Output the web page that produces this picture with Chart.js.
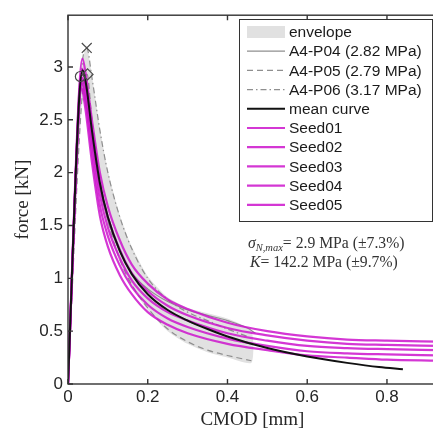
<!DOCTYPE html>
<html>
<head>
<meta charset="utf-8">
<script src="https://cdn.jsdelivr.net/npm/chart.js@4.4.1/dist/chart.umd.min.js"></script>
<style>
  html, body { margin: 0; padding: 0; background: #fff; overflow: hidden; }
  #wrap { width: 433px; height: 434px; overflow: hidden; }
</style>
</head>
<body>
<div id="wrap"><canvas id="cmodChart" width="445" height="434"></canvas></div>
<script>
// tick values of both axes
const cmodTicks = [0, 0.2, 0.4, 0.6, 0.8];
const forceTicks = [0, 0.5, 1, 1.5, 2, 2.5, 3];

// experiments, [CMOD mm, force kN]
const specP04 = [[0, 0], [0.026, 2.7], [0.031, 2.91], [0.042, 2.72], [0.06, 2.3], [0.08, 1.85], [0.1, 1.55],
  [0.13, 1.25], [0.16, 1.05], [0.2, 0.9], [0.25, 0.78], [0.3, 0.7], [0.35, 0.65], [0.4, 0.6], [0.45, 0.53], [0.47, 0.48]];
const specP05 = [[0, 0], [0.035, 2.7], [0.048, 2.93], [0.06, 2.5], [0.08, 1.95], [0.1, 1.55],
  [0.13, 1.18], [0.16, 0.94], [0.2, 0.72], [0.25, 0.52], [0.3, 0.4], [0.35, 0.32], [0.4, 0.27], [0.46, 0.22]];
const specP06 = [[0, 0], [0.035, 3.0], [0.047, 3.18], [0.06, 2.9], [0.08, 2.4], [0.1, 2.0],
  [0.13, 1.58], [0.16, 1.28], [0.2, 1.0], [0.25, 0.8], [0.3, 0.68], [0.35, 0.6], [0.4, 0.52], [0.45, 0.45]];

// grey band around the experiments (upper edge, lower edge)
const envelopeUpper = [[0, 0], [0.026, 2.72], [0.031, 2.93], [0.04, 3.12], [0.047, 3.2], [0.06, 2.92], [0.08, 2.42],
  [0.1, 2.02], [0.13, 1.6], [0.16, 1.3], [0.2, 1.02], [0.25, 0.82], [0.3, 0.72], [0.35, 0.67], [0.4, 0.62], [0.46, 0.5]];
const envelopeLower = [[0.46, 0.2], [0.4, 0.25], [0.35, 0.3], [0.3, 0.38], [0.25, 0.5], [0.2, 0.7], [0.16, 0.92],
  [0.13, 1.15], [0.1, 1.5], [0.08, 1.82], [0.06, 2.28], [0.045, 2.68], [0.035, 2.68], [0, 0]];

const meanCurve = [[0, 0], [0.028, 2.7], [0.037, 2.97], [0.046, 2.82], [0.06, 2.4], [0.08, 1.9], [0.1, 1.58],
  [0.13, 1.26], [0.16, 1.04], [0.2, 0.85], [0.25, 0.7], [0.3, 0.6], [0.35, 0.52], [0.4, 0.45], [0.5, 0.34], [0.6, 0.26],
  [0.7, 0.2], [0.78, 0.16], [0.84, 0.14]];

// simulations
const seed01 = [[0, 0], [0.028, 2.78], [0.036, 3.08], [0.045, 2.92], [0.06, 2.5], [0.08, 2.0], [0.1, 1.68],
  [0.13, 1.36], [0.16, 1.13], [0.2, 0.95], [0.25, 0.8], [0.3, 0.71], [0.4, 0.58], [0.5, 0.5], [0.6, 0.45], [0.7, 0.42],
  [0.8, 0.41], [0.93, 0.4]];
const seed02 = [[0, 0], [0.028, 2.7], [0.036, 2.98], [0.045, 2.82], [0.06, 2.4], [0.08, 1.89], [0.1, 1.58],
  [0.13, 1.27], [0.16, 1.05], [0.2, 0.88], [0.25, 0.74], [0.3, 0.65], [0.4, 0.53], [0.5, 0.46], [0.6, 0.41], [0.7, 0.38],
  [0.8, 0.37], [0.93, 0.36]];
const seed03 = [[0, 0], [0.028, 2.65], [0.036, 2.9], [0.045, 2.74], [0.06, 2.3], [0.08, 1.79], [0.1, 1.48],
  [0.13, 1.19], [0.16, 0.98], [0.2, 0.81], [0.25, 0.68], [0.3, 0.6], [0.4, 0.48], [0.5, 0.41], [0.6, 0.36], [0.7, 0.34],
  [0.8, 0.33], [0.93, 0.32]];
const seed04 = [[0, 0], [0.027, 2.6], [0.035, 2.85], [0.044, 2.68], [0.06, 2.2], [0.08, 1.69], [0.1, 1.4],
  [0.13, 1.12], [0.16, 0.92], [0.2, 0.75], [0.25, 0.62], [0.3, 0.54], [0.4, 0.43], [0.5, 0.36], [0.6, 0.31], [0.7, 0.29],
  [0.8, 0.28], [0.93, 0.27]];
const seed05 = [[0, 0], [0.027, 2.55], [0.034, 2.8], [0.043, 2.62], [0.06, 2.1], [0.08, 1.59], [0.1, 1.3],
  [0.13, 1.03], [0.16, 0.85], [0.2, 0.68], [0.25, 0.56], [0.3, 0.48], [0.4, 0.38], [0.5, 0.32], [0.6, 0.27], [0.7, 0.25],
  [0.8, 0.23], [0.93, 0.22]];

// peak markers of the experiments
const peakP04 = [[0.031, 2.91]];
const peakP05 = [[0.049, 2.93]];
const peakP06 = [[0.047, 3.18]];

const xy = (pts) => pts.map(p => ({x: p[0], y: p[1]}));

const MAGENTA = 'rgba(205, 20, 205, 0.85)';
const GREY = '#8f8f8f';
const AXIS = '#333333';

function seedLine(label, pts) {
  return {label: label, data: xy(pts), borderColor: MAGENTA, borderWidth: 2.2, cubicInterpolationMode: 'monotone',
    pointRadius: 0, order: 2};
}
function expLine(label, pts, dash) {
  return {label: label, data: xy(pts), borderColor: GREY, borderWidth: 1.2, borderDash: dash,
    cubicInterpolationMode: 'monotone', pointRadius: 0, order: 3};
}
function peakMark(style, pts, r) {
  return {label: '', inLegend: false, data: xy(pts), showLine: false, pointStyle: style, pointRadius: r,
    pointBorderColor: '#4a4a4a', pointBackgroundColor: 'rgba(0,0,0,0)', pointBorderWidth: 1.2, order: 0};
}

// inward ticks and the box, MATLAB style
const axesBox = {
  id: 'axesBox',
  afterDatasetsDraw(chart) {
    const {ctx, chartArea: a, scales} = chart;
    ctx.save();
    ctx.strokeStyle = AXIS;
    ctx.lineWidth = 1.4;
    ctx.strokeRect(a.left, a.top, a.right - a.left, a.bottom - a.top);
    ctx.beginPath();
    cmodTicks.forEach(v => {
      const px = scales.x.getPixelForValue(v);
      ctx.moveTo(px, a.bottom); ctx.lineTo(px, a.bottom - 5);
      ctx.moveTo(px, a.top); ctx.lineTo(px, a.top + 5);
    });
    forceTicks.forEach(v => {
      const py = scales.y.getPixelForValue(v);
      ctx.moveTo(a.left, py); ctx.lineTo(a.left + 5, py);
    });
    ctx.stroke();
    ctx.restore();
  }
};

function drawRich(ctx, parts, x, y) {
  parts.forEach(p => {
    ctx.font = p.font;
    ctx.fillText(p.text, x, y + (p.dy || 0));
    x += ctx.measureText(p.text).width;
  });
}

const legendBox = {
  id: 'legendBox',
  afterDraw(chart) {
    const ctx = chart.ctx;
    const x0 = 239, y0 = 19, w = 193, h = 202, rowH = 19.2;
    ctx.save();
    ctx.fillStyle = '#ffffff';
    ctx.fillRect(x0, y0, w, h);
    ctx.strokeStyle = AXIS;
    ctx.lineWidth = 1;
    ctx.strokeRect(x0 + 0.5, y0 + 0.5, w, h);
    ctx.textBaseline = 'middle';
    let row = 0;
    chart.data.datasets.forEach(ds => {
      if (ds.inLegend === false) return;
      const cy = y0 + 13 + row * rowH;
      if (ds.fill === 'shape') {
        ctx.fillStyle = ds.backgroundColor;
        ctx.fillRect(247, cy - 6, 38, 12);
      } else {
        ctx.strokeStyle = ds.borderColor;
        ctx.lineWidth = ds.borderWidth;
        ctx.setLineDash(ds.borderDash || []);
        ctx.beginPath();
        ctx.moveTo(247, cy); ctx.lineTo(285, cy);
        ctx.stroke();
        ctx.setLineDash([]);
      }
      ctx.fillStyle = '#1a1a1a';
      ctx.font = '15.5px "Liberation Sans", Arial, sans-serif';
      ctx.fillText(ds.label, 289, cy + 1);
      row++;
    });

    // fitted parameters
    ctx.fillStyle = '#333333';
    ctx.textBaseline = 'alphabetic';
    const serif = '"Liberation Serif", "Times New Roman", serif';
    drawRich(ctx, [
      {text: 'σ', font: 'italic 15.7px ' + serif},
      {text: 'N,max', font: 'italic 10.5px ' + serif, dy: 3},
      {text: '= 2.9 MPa (±7.3%)', font: '15.7px ' + serif}
    ], 248, 248);
    drawRich(ctx, [
      {text: 'K', font: 'italic 15.7px ' + serif},
      {text: '= 142.2 MPa (±9.7%)', font: '15.7px ' + serif}
    ], 250, 267);
    ctx.restore();
  }
};

new Chart(document.getElementById('cmodChart'), {
  type: 'line',
  data: {
    datasets: [
      {label: 'envelope', data: xy(envelopeUpper.concat(envelopeLower)), fill: 'shape', backgroundColor: '#e1e1e1',
        borderWidth: 0, borderColor: 'rgba(0,0,0,0)', tension: 0.2, pointRadius: 0, order: 4},
      expLine('A4-P04 (2.82 MPa)', specP04, []),
      expLine('A4-P05 (2.79 MPa)', specP05, [6, 4]),
      expLine('A4-P06 (3.17 MPa)', specP06, [6, 3, 1.5, 3]),
      {label: 'mean curve', data: xy(meanCurve), borderColor: '#111111', borderWidth: 2,
        cubicInterpolationMode: 'monotone', pointRadius: 0, order: 1},
      seedLine('Seed01', seed01),
      seedLine('Seed02', seed02),
      seedLine('Seed03', seed03),
      seedLine('Seed04', seed04),
      seedLine('Seed05', seed05),
      peakMark('circle', peakP04, 5),
      peakMark('rectRot', peakP05, 5.5),
      peakMark('crossRot', peakP06, 7)
    ]
  },
  options: {
    responsive: false,
    animation: false,
    devicePixelRatio: 1,
    layout: {padding: {left: 0, top: 9, right: 5, bottom: 0}},
    plugins: {
      legend: {display: false},
      tooltip: {enabled: false}
    },
    scales: {
      x: {
        type: 'linear',
        min: 0,
        max: 0.925,
        afterBuildTicks: (s) => { s.ticks = cmodTicks.map(v => ({value: v})); },
        afterFit: (s) => { s.height = 50; },
        grid: {display: false, drawTicks: false},
        border: {display: false},
        ticks: {
          color: '#262626',
          padding: 3,
          maxRotation: 0,
          font: {family: '"Liberation Sans", Arial, sans-serif', size: 17},
          callback: (v) => String(v)
        },
        title: {
          display: true,
          text: 'CMOD [mm]',
          color: '#262626',
          padding: {top: 0, bottom: 3},
          font: {family: '"Liberation Serif", "Times New Roman", serif', size: 19}
        }
      },
      y: {
        type: 'linear',
        min: 0,
        max: 3.49,
        afterBuildTicks: (s) => { s.ticks = forceTicks.map(v => ({value: v})); },
        afterFit: (s) => { s.width = 68; },
        grid: {display: false, drawTicks: false},
        border: {display: false},
        ticks: {
          color: '#262626',
          padding: 5,
          font: {family: '"Liberation Sans", Arial, sans-serif', size: 17},
          callback: (v) => String(v)
        },
        title: {
          display: true,
          text: 'force [kN]',
          color: '#262626',
          padding: {top: 12, bottom: 0},
          font: {family: '"Liberation Serif", "Times New Roman", serif', size: 19}
        }
      }
    }
  },
  plugins: [axesBox, legendBox]
});
</script>
</body>
</html>
